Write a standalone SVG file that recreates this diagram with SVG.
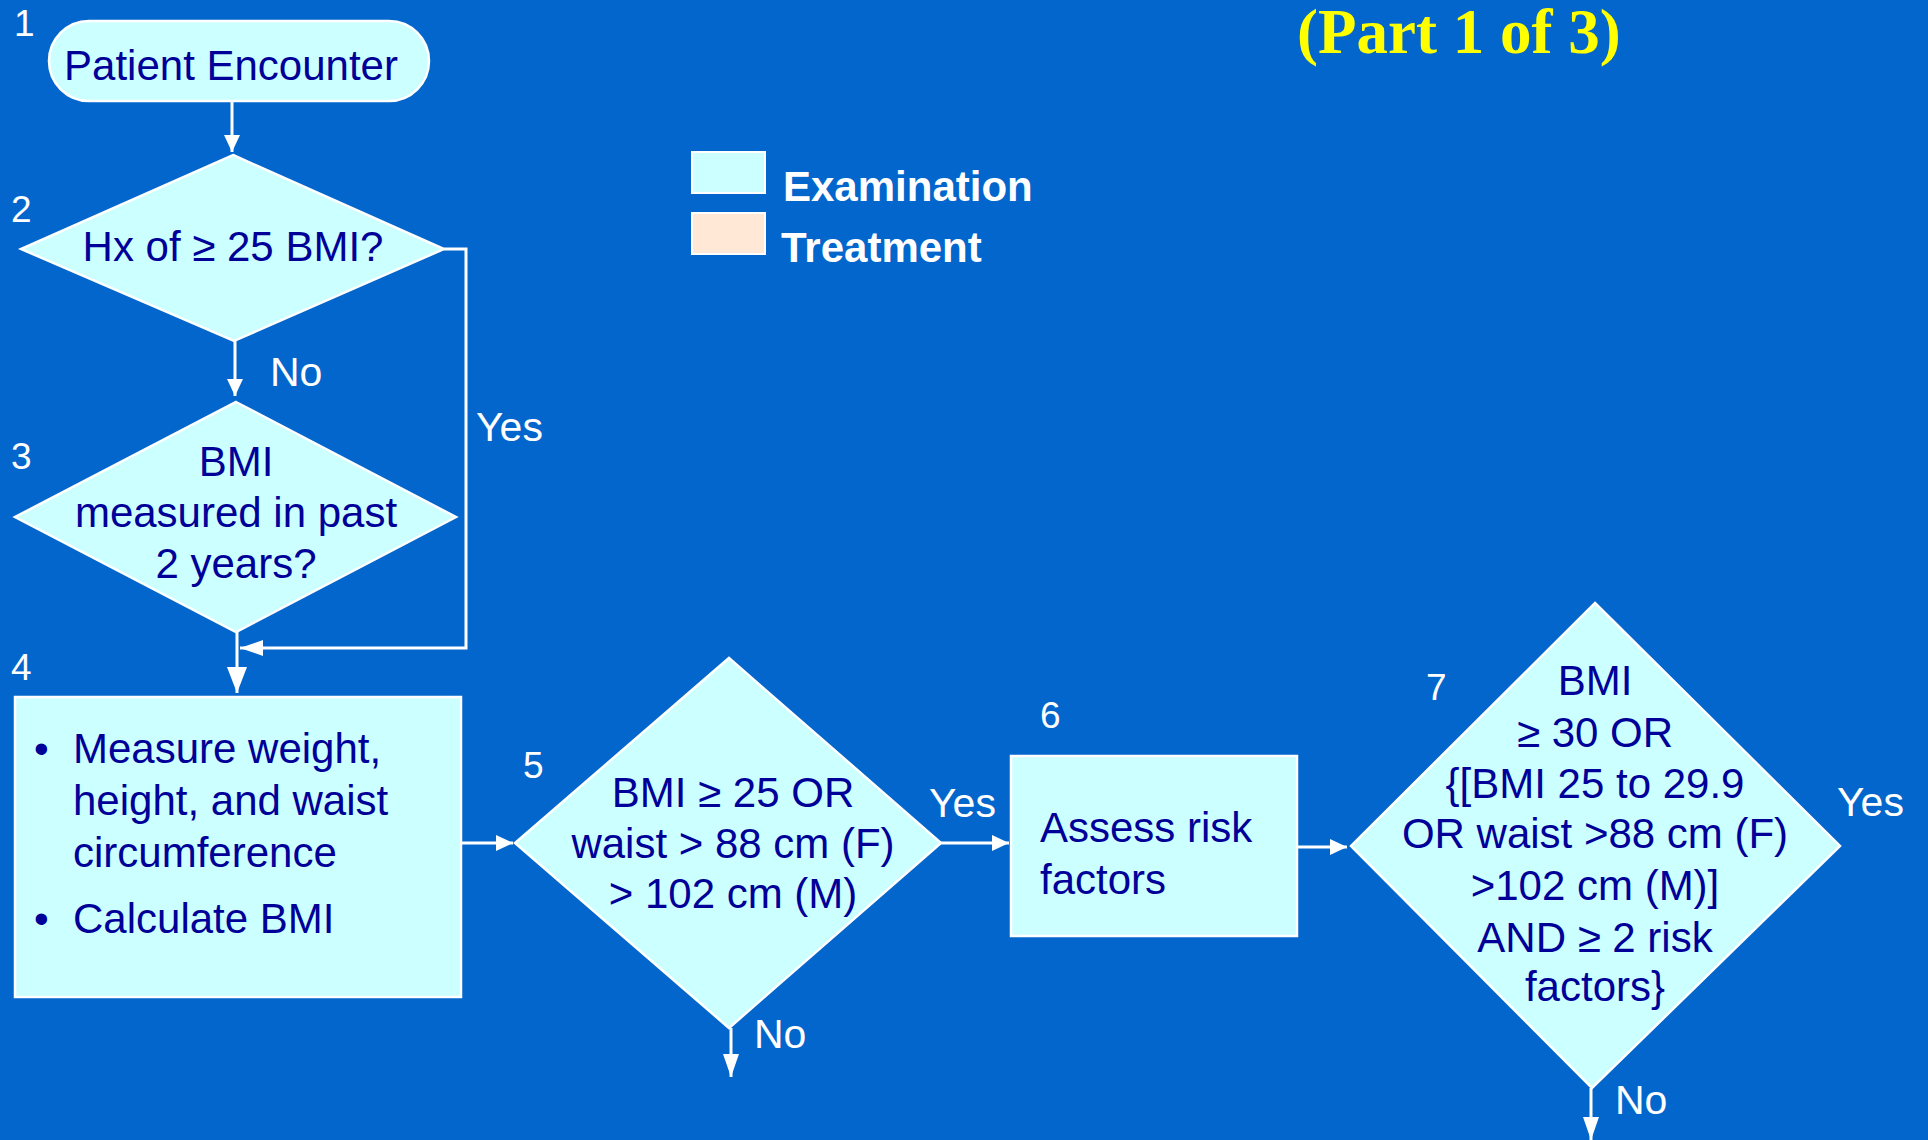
<svg xmlns="http://www.w3.org/2000/svg" width="1928" height="1140" viewBox="0 0 1928 1140">
<style>
.bg{fill:#0366CC}
.shape{fill:#CCFFFF;stroke:#FFFFFF;stroke-width:2.5}
.t{font-family:"Liberation Sans",Arial,sans-serif;font-size:42px;fill:#000099}
.tm{text-anchor:middle}
.num{font-family:"Liberation Sans",Arial,sans-serif;font-size:37px;fill:#FFFFFF}
.lbl{font-family:"Liberation Sans",Arial,sans-serif;font-size:41px;fill:#FFFFFF}
.leg{font-family:"Liberation Sans",Arial,sans-serif;font-size:42px;font-weight:bold;fill:#FFFFFF}
.title{font-family:"Liberation Serif","Times New Roman",serif;font-size:63px;font-weight:bold;fill:#FFFF00}
.conn{fill:none;stroke:#FFFFFF;stroke-width:3}
.ah{fill:#FFFFFF}
</style>
<defs>
<marker id="ah" markerUnits="userSpaceOnUse" viewBox="0 0 17 16" refX="17" refY="8" markerWidth="17" markerHeight="16" orient="auto"><path class="ah" d="M0,0 L17,8 L0,16 Z"/></marker>
<marker id="ahM" markerUnits="userSpaceOnUse" viewBox="0 0 23 16" refX="23" refY="8" markerWidth="23" markerHeight="16" orient="auto"><path class="ah" d="M0,0 L23,8 L0,16 Z"/></marker>
<marker id="ahL" markerUnits="userSpaceOnUse" viewBox="0 0 26 20" refX="26" refY="10" markerWidth="26" markerHeight="20" orient="auto"><path class="ah" d="M0,0 L26,10 L0,20 Z"/></marker>
</defs>
<rect class="bg" x="0" y="0" width="1928" height="1140"/>

<text class="title" x="1297" y="53">(Part 1 of 3)</text>

<g id="legend">
<rect x="692" y="152" width="73" height="41" fill="#CCFFFF" stroke="#FFFFFF" stroke-width="2"/>
<rect x="692" y="213" width="73" height="41" fill="#FFE8D6" stroke="#FFFFFF" stroke-width="2"/>
<text class="leg" x="783" y="201">Examination</text>
<text class="leg" x="781" y="262">Treatment</text>
</g>

<g id="connectors">
<path class="conn" d="M232,101 V152" marker-end="url(#ah)"/>
<path class="conn" d="M235,341 V396" marker-end="url(#ah)"/>
<path class="conn" d="M444,249 H466 V648 H240" marker-end="url(#ahM)"/>
<path class="conn" d="M237,632 V693" marker-end="url(#ahL)"/>
<path class="conn" d="M461,843 H513" marker-end="url(#ah)"/>
<path class="conn" d="M940,843 H1009" marker-end="url(#ah)"/>
<path class="conn" d="M1297,847 H1347" marker-end="url(#ah)"/>
<path class="conn" d="M731,1028 V1077" marker-end="url(#ahM)"/>
<path class="conn" d="M1591,1088 V1140" marker-end="url(#ahM)"/>
<text class="lbl" x="270" y="386">No</text>
<text class="lbl" x="476" y="441">Yes</text>
<text class="lbl" x="929" y="817">Yes</text>
<text class="lbl" x="754" y="1048">No</text>
<text class="lbl" x="1837" y="816">Yes</text>
<text class="lbl" x="1615" y="1114">No</text>
</g>

<g id="node1">
<rect class="shape" x="49" y="21" width="380" height="80" rx="40" ry="40"/>
<text class="t tm" x="231" y="80">Patient Encounter</text>
<text class="num" x="14" y="36">1</text>
</g>

<g id="node2">
<polygon class="shape" points="233,155 444,249 234,341 21,249"/>
<text class="t tm" x="233" y="261">Hx of ≥ 25 BMI?</text>
<text class="num" x="11" y="222">2</text>
</g>

<g id="node3">
<polygon class="shape" points="236,402 456,517 236,632 15,517"/>
<text class="t tm" x="236" y="476">BMI</text>
<text class="t tm" x="236" y="527">measured in past</text>
<text class="t tm" x="236" y="578">2 years?</text>
<text class="num" x="11" y="469">3</text>
</g>

<g id="node4">
<rect class="shape" x="15" y="697" width="446" height="300"/>
<text class="t" x="34" y="763">•</text>
<text class="t" x="73" y="763">Measure weight,</text>
<text class="t" x="73" y="815">height, and waist</text>
<text class="t" x="73" y="867">circumference</text>
<text class="t" x="34" y="933">•</text>
<text class="t" x="73" y="933">Calculate BMI</text>
<text class="num" x="11" y="680">4</text>
</g>

<g id="node5">
<polygon class="shape" points="729,658 941,843 729,1028 515,843"/>
<text class="t tm" x="733" y="807">BMI ≥ 25 OR</text>
<text class="t tm" x="733" y="858">waist &gt; 88 cm (F)</text>
<text class="t tm" x="733" y="908">&gt; 102 cm (M)</text>
<text class="num" x="523" y="778">5</text>
</g>

<g id="node6">
<rect class="shape" x="1011" y="756" width="286" height="180"/>
<text class="t" x="1040" y="842">Assess risk</text>
<text class="t" x="1040" y="894">factors</text>
<text class="num" x="1040" y="728">6</text>
</g>

<g id="node7">
<polygon class="shape" points="1595,603 1840,846 1592,1088 1351,846"/>
<text class="t tm" x="1595" y="695">BMI</text>
<text class="t tm" x="1595" y="747">≥ 30 OR</text>
<text class="t tm" x="1595" y="798">{[BMI 25 to 29.9</text>
<text class="t tm" x="1595" y="848">OR waist &gt;88 cm (F)</text>
<text class="t tm" x="1595" y="900">&gt;102 cm (M)]</text>
<text class="t tm" x="1595" y="952">AND ≥ 2 risk</text>
<text class="t tm" x="1595" y="1001">factors}</text>
<text class="num" x="1426" y="700">7</text>
</g>
</svg>
